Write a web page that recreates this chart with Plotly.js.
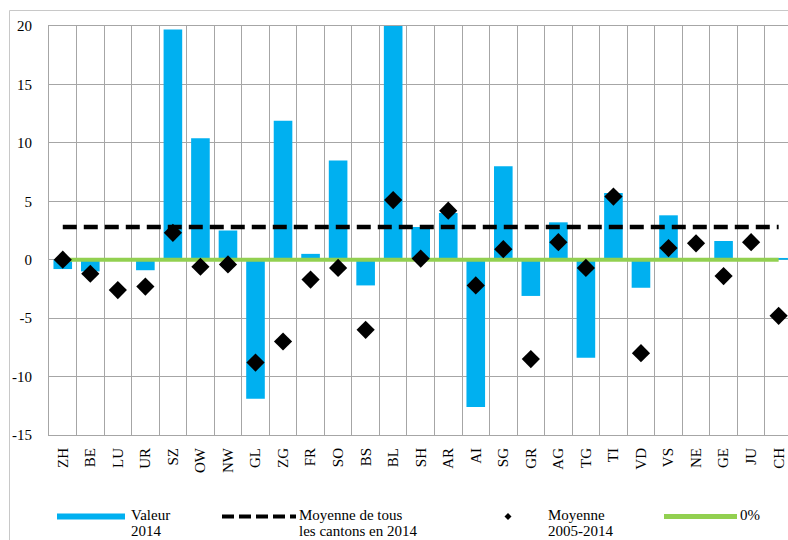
<!DOCTYPE html>
<html>
<head>
<meta charset="utf-8">
<script src="https://cdn.plot.ly/plotly-3.0.1.min.js"></script>
<style>html,body{margin:0;padding:0;background:#fff;}#chart{width:788px;height:540px;}</style>
</head>
<body>
<div id="chart"></div>
<script>
// ---- data ----
const cantons = ["ZH","BE","LU","UR","SZ","OW","NW","GL","ZG","FR","SO","BS","BL","SH","AR","AI","SG","GR","AG","TG","TI","VD","VS","NE","GE","JU","CH"];
const valeur2014 = [-0.8,-1.0,-0.1,-0.9,19.7,10.4,2.5,-11.9,11.9,0.5,8.5,-2.2,21.0,2.8,4.0,-12.6,8.0,-3.1,3.2,-8.4,5.7,-2.4,3.8,0.1,1.6,0.1,0.15];
const moyenne2005_2014 = [0.0,-1.2,-2.6,-2.3,2.3,-0.6,-0.4,-8.8,-7.0,-1.7,-0.7,-6.0,5.1,0.1,4.2,-2.2,0.9,-8.5,1.5,-0.7,5.4,-8.0,1.0,1.4,-1.4,1.5,-4.8];
const moyenneTous2014 = 2.8;
const zeroRef = 0;
const yTicks = [-15,-10,-5,0,5,10,15,20];

// ---- layout geometry helpers (pixels -> paper) ----
const W = 788, H = 540, mL = 49, mR = 0, mT = 26, mB = 105;
const pw = W - mL - mR, ph = H - mT - mB;
const px = x => (x - mL) / pw;
const py = y => (H - mB - y) / ph;

const serif = '"Liberation Serif", "Times New Roman", serif';
const gridCol = '#A6A6A6';

const traces = [
  {type:'bar', x:cantons, y:valeur2014, marker:{color:'#00B0F0'}, showlegend:false, hoverinfo:'x+y'},
  {type:'scatter', mode:'lines', x:[cantons[0], cantons[cantons.length-1]], y:[moyenneTous2014, moyenneTous2014],
   line:{color:'#000', width:4.5, dash:'14px,7px'}, showlegend:false},
  {type:'scatter', mode:'lines', x:[cantons[0], cantons[cantons.length-1]], y:[zeroRef, zeroRef],
   line:{color:'#92D050', width:4}, showlegend:false},
  {type:'scatter', mode:'markers', x:cantons, y:moyenne2005_2014,
   marker:{symbol:'diamond', color:'#000', size:14}, showlegend:false, cliponaxis:false}
];

const legY1 = 516.5;
const shapes = [
  // outer frame
  {type:'rect', xref:'paper', yref:'paper', x0:px(9.5), x1:px(820), y0:py(580), y1:py(10.5), line:{color:'#C8C8C8', width:1}, layer:'below'},
  // legend swatches
  {type:'rect', xref:'paper', yref:'paper', x0:px(57), x1:px(125), y0:py(519.5), y1:py(513.5), fillcolor:'#00B0F0', line:{width:0}},
  {type:'line', xref:'paper', yref:'paper', x0:px(222), x1:px(296), y0:py(legY1), y1:py(legY1), line:{color:'#000', width:4, dash:'12px,5px'}},
  {type:'path', xref:'paper', yref:'paper',
   path:`M ${px(508)} ${py(legY1-3.5)} L ${px(511.5)} ${py(legY1)} L ${px(508)} ${py(legY1+3.5)} L ${px(504.5)} ${py(legY1)} Z`,
   fillcolor:'#000', line:{width:0}},
  {type:'line', xref:'paper', yref:'paper', x0:px(664), x1:px(737), y0:py(legY1), y1:py(legY1), line:{color:'#92D050', width:5}}
];

const legFont = {family:serif, size:15, color:'#000'};
const ann = (t, x, y) => ({text:t, xref:'paper', yref:'paper', x:px(x), y:py(y), xanchor:'left', yanchor:'middle', showarrow:false, font:legFont});
const annotations = [
  ann('Valeur', 129, 515), ann('2014', 129, 531),
  ann('Moyenne de tous', 297, 515), ann('les cantons en 2014', 297, 531),
  ann('Moyenne', 546, 515), ann('2005-2014', 546, 531),
  ann('0%', 738, 515)
];

const layout = {
  width:W, height:H,
  margin:{l:mL, r:mR, t:mT, b:mB, pad:0},
  paper_bgcolor:'#fff', plot_bgcolor:'#fff',
  bargap:0.324,
  showlegend:false,
  xaxis:{type:'category', range:[-0.5, 26.34], tickson:'boundaries', showgrid:true, gridcolor:gridCol, gridwidth:1,
         showline:true, mirror:true, linecolor:gridCol, linewidth:1, ticks:'', tickangle:-90,
         tickfont:{family:serif, size:15, color:'#000'}, ticklabelstandoff:6, fixedrange:true},
  yaxis:{range:[-15,20], tickvals:yTicks, ticktext:yTicks.map(String), showgrid:true, gridcolor:gridCol, gridwidth:1,
         zeroline:false, showline:true, linecolor:gridCol, linewidth:1, ticks:'',
         tickfont:{family:serif, size:15, color:'#000'}, ticklabelstandoff:13, fixedrange:true},
  shapes:shapes,
  annotations:annotations
};

Plotly.newPlot('chart', traces, layout, {displayModeBar:false, staticPlot:true});
</script>
</body>
</html>
